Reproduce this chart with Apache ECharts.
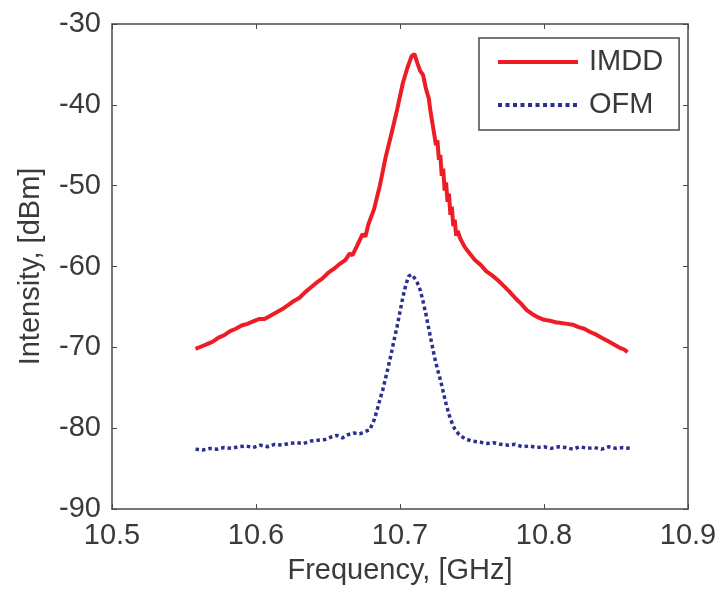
<!DOCTYPE html>
<html>
<head>
<meta charset="utf-8">
<script src="https://cdn.jsdelivr.net/npm/echarts@6/dist/echarts.min.js"></script>
<style>
html,body{margin:0;padding:0;background:#fff;}
#chart{width:721px;height:593px;}
</style>
</head>
<body>
<div id="chart"></div>
<script>
// ---- data ----
var xTicks = [10.5, 10.6, 10.7, 10.8, 10.9];
var yTicks = [-90, -80, -70, -60, -50, -40, -30];

var imddFreq = [10.558,10.562,10.566,10.570,10.574,10.578,10.582,10.586,10.590,10.594,
  10.598,10.602,10.606,10.610,10.614,10.618,10.622,10.626,10.630,10.634,
  10.638,10.642,10.646,10.650,10.654,10.658,10.662,10.665,10.667,10.670,
  10.674,10.676,10.678,10.682,10.686,10.690,10.694,10.698,10.702,10.705,
  10.708,10.710,10.712,10.714,10.716,10.718,10.720,10.721,10.722,10.723,
  10.724,10.725,10.726,10.727,10.728,10.729,10.730,10.731,10.732,10.733,
  10.734,10.735,10.736,10.737,10.738,10.739,10.740,10.742,10.745,10.748,
  10.752,10.756,10.760,10.764,10.768,10.772,10.776,10.780,10.784,10.788,
  10.792,10.796,10.800,10.804,10.808,10.812,10.816,10.820,10.824,10.828,
  10.832,10.836,10.840,10.844,10.848,10.852,10.856,10.858];
var imddPower = [-70.2,-69.9,-69.6,-69.3,-68.8,-68.5,-68.0,-67.7,-67.3,-67.1,
  -66.8,-66.5,-66.5,-66.1,-65.7,-65.3,-64.8,-64.3,-63.9,-63.2,
  -62.6,-62.0,-61.5,-60.8,-60.3,-59.7,-59.2,-58.4,-58.6,-57.5,
  -56.0,-56.3,-54.8,-52.9,-50.0,-46.5,-43.6,-40.6,-37.3,-35.5,
  -34.0,-33.7,-34.8,-35.8,-36.3,-38.0,-39.2,-40.6,-40.8,-42.8,
  -42.6,-45.0,-44.4,-46.8,-46.2,-48.8,-47.9,-50.6,-49.6,-52.0,
  -51.0,-53.6,-52.6,-55.0,-54.2,-56.2,-55.6,-56.6,-57.6,-58.3,
  -59.2,-59.8,-60.6,-61.1,-61.7,-62.4,-63.1,-63.9,-64.6,-65.4,
  -65.9,-66.3,-66.6,-66.7,-66.9,-67.0,-67.1,-67.2,-67.5,-67.7,
  -68.1,-68.4,-68.8,-69.2,-69.6,-70.0,-70.3,-70.6];

var ofmFreq = [10.558,10.563,10.568,10.573,10.578,10.583,10.588,10.593,10.598,10.603,
  10.608,10.613,10.618,10.623,10.628,10.633,10.638,10.643,10.648,10.652,
  10.656,10.660,10.664,10.668,10.672,10.676,10.679,10.682,10.684,10.686,
  10.688,10.690,10.692,10.694,10.696,10.698,10.700,10.702,10.704,10.706,
  10.708,10.710,10.712,10.714,10.716,10.718,10.720,10.722,10.724,10.726,
  10.728,10.730,10.732,10.734,10.736,10.738,10.741,10.745,10.750,10.755,
  10.760,10.765,10.770,10.775,10.780,10.785,10.790,10.795,10.800,10.805,
  10.810,10.815,10.820,10.825,10.830,10.835,10.840,10.845,10.850,10.855,10.860];
var ofmPower = [-82.6,-82.7,-82.5,-82.6,-82.4,-82.5,-82.3,-82.2,-82.4,-82.1,
  -82.3,-82.0,-82.1,-81.9,-81.8,-81.9,-81.6,-81.5,-81.4,-81.1,
  -80.9,-81.2,-80.8,-80.6,-80.7,-80.4,-80.2,-79.0,-77.8,-76.5,
  -75.3,-73.8,-72.3,-70.7,-69.0,-67.4,-65.6,-63.8,-62.3,-61.2,
  -61.0,-61.4,-62.0,-62.9,-64.3,-65.9,-67.7,-69.5,-71.2,-72.7,
  -74.0,-75.5,-77.0,-78.3,-79.3,-80.1,-80.8,-81.3,-81.6,-81.7,
  -81.9,-81.8,-82.0,-82.1,-82.0,-82.3,-82.2,-82.4,-82.3,-82.5,
  -82.3,-82.4,-82.6,-82.3,-82.5,-82.4,-82.6,-82.3,-82.5,-82.4,-82.5];

function zip(a, b) { return a.map(function (v, i) { return [v, b[i]]; }); }

var FONT = '"Liberation Sans", Arial, Helvetica, sans-serif';
var TXT = '#3a3a3a';
var AX = '#4a4a4a';
var RED = '#ee1c25';
var BLUE = '#2b2f8f';

var chart = echarts.init(document.getElementById('chart'), null, {renderer: 'canvas'});

function axisBase() {
  return {
    axisLine: {show: true, onZero: false, lineStyle: {color: AX, width: 1.5}},
    axisTick: {show: true, inside: true, length: 5, lineStyle: {color: AX, width: 1}},
    splitLine: {show: false}
  };
}

var xMain = Object.assign(axisBase(), {
  type: 'value', position: 'bottom',
  min: xTicks[0], max: xTicks[xTicks.length - 1], interval: 0.1,
  name: 'Frequency, [GHz]', nameLocation: 'middle', nameGap: 47,
  nameTextStyle: {fontFamily: FONT, fontSize: 29, color: TXT},
  axisLabel: {margin: 12, fontFamily: FONT, fontSize: 29, color: TXT,
    formatter: function (v) { return v.toFixed(1); }}
});
var xTop = Object.assign(axisBase(), {
  type: 'value', position: 'top',
  min: xTicks[0], max: xTicks[xTicks.length - 1], interval: 0.1,
  axisLabel: {show: false}
});
var yMain = Object.assign(axisBase(), {
  type: 'value', position: 'left',
  min: yTicks[0], max: yTicks[yTicks.length - 1], interval: 10,
  name: 'Intensity, [dBm]', nameLocation: 'middle', nameGap: 67,
  nameTextStyle: {fontFamily: FONT, fontSize: 29, color: TXT},
  axisLabel: {margin: 11, fontFamily: FONT, fontSize: 29, color: TXT}
});
var yRight = Object.assign(axisBase(), {
  type: 'value', position: 'right',
  min: yTicks[0], max: yTicks[yTicks.length - 1], interval: 10,
  axisLabel: {show: false}
});

chart.setOption({
  animation: false,
  backgroundColor: '#ffffff',
  grid: {left: 112, top: 24, width: 576, height: 485, containLabel: false},
  xAxis: [xMain, xTop],
  yAxis: [yMain, yRight],
  legend: {
    left: 479, top: 38, orient: 'vertical',
    padding: [9, 16, 10, 17],
    itemWidth: 80, itemHeight: 14, itemGap: 13,
    borderColor: AX, borderWidth: 1.5,
    itemStyle: {opacity: 0},
    textStyle: {fontFamily: FONT, fontSize: 29, color: TXT, lineHeight: 30, padding: [0, 0, 0, 6]},
    data: [
      {name: 'IMDD', lineStyle: {color: RED, width: 4, type: 'solid'}},
      {name: 'OFM', lineStyle: {color: BLUE, width: 4, type: [4, 3.5]}}
    ]
  },
  series: [
    {
      name: 'IMDD', type: 'line', xAxisIndex: 0, yAxisIndex: 0,
      data: zip(imddFreq, imddPower),
      symbol: 'none', showSymbol: false,
      lineStyle: {color: RED, width: 4},
      itemStyle: {color: RED}
    },
    {
      name: 'OFM', type: 'line', xAxisIndex: 0, yAxisIndex: 0,
      data: zip(ofmFreq, ofmPower),
      symbol: 'none', showSymbol: false,
      lineStyle: {color: BLUE, width: 3.5, type: [3.5, 3]},
      itemStyle: {color: BLUE}
    }
  ]
});
</script>
</body>
</html>
